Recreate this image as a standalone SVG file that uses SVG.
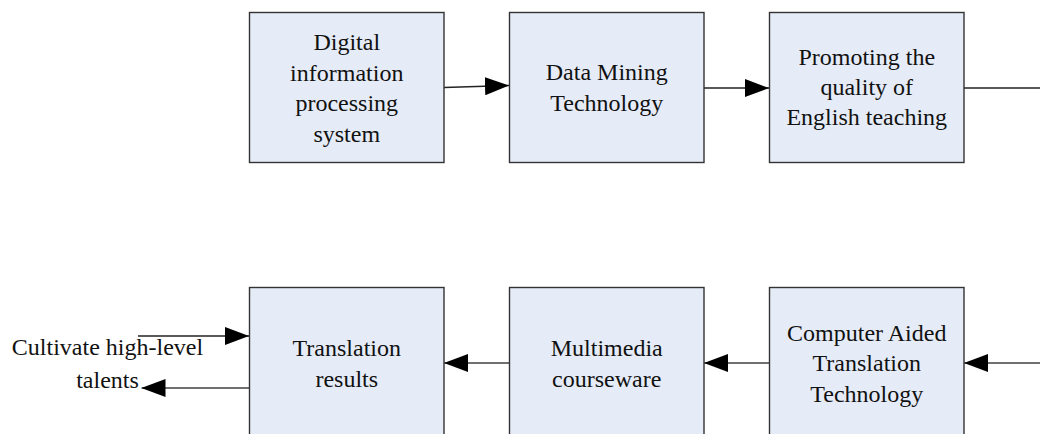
<svg xmlns="http://www.w3.org/2000/svg" width="1040" height="434" viewBox="0 0 1040 434">
<style>
.box{fill:#E6ECF7;stroke:#333333;stroke-width:1.4}
.t{font-family:"Liberation Serif","Times New Roman",serif;font-size:24px;fill:#111111;text-anchor:middle}
.c{fill:none;stroke:#222222;stroke-width:1.3}
.g{fill:none;stroke:#707070;stroke-width:2}
</style>
<defs>
<marker id="ah" markerUnits="userSpaceOnUse" markerWidth="24" markerHeight="18" refX="24" refY="9" orient="auto">
<path d="M0,0 L24,9 L0,18 z" fill="#000000"/>
</marker>
</defs>
<rect width="1040" height="434" fill="#ffffff"/>
<g id="connectors">
<path class="c" d="M444,87.5 L509,85.5" marker-end="url(#ah)"/>
<path class="c" d="M704,88 L769,88" marker-end="url(#ah)"/>
<path class="c" d="M964,88 L1040,88"/>
<path class="g" d="M1040,363 L964,363" marker-end="url(#ah)"/>
<path class="g" d="M769,363 L704,363" marker-end="url(#ah)"/>
<path class="g" d="M509,363 L444,363" marker-end="url(#ah)"/>
<path class="c" d="M138,336 L249,336" marker-end="url(#ah)"/>
<path class="g" d="M249,388 L141.5,388" marker-end="url(#ah)"/>
</g>
<g id="n1">
<rect class="box" x="249.5" y="12.5" width="194.5" height="150"/>
<text class="t"><tspan x="346.75" y="50">Digital</tspan><tspan x="346.75" y="80.5">information</tspan><tspan x="346.75" y="111">processing</tspan><tspan x="346.75" y="141.5">system</tspan></text>
</g>
<g id="n2">
<rect class="box" x="509.5" y="12.5" width="194.5" height="150"/>
<text class="t"><tspan x="606.75" y="80">Data Mining</tspan><tspan x="606.75" y="110.5">Technology</tspan></text>
</g>
<g id="n3">
<rect class="box" x="769.5" y="12.5" width="194.5" height="150"/>
<text class="t"><tspan x="866.75" y="65">Promoting the</tspan><tspan x="866.75" y="95">quality of</tspan><tspan x="866.75" y="125">English teaching</tspan></text>
</g>
<g id="n4">
<rect class="box" x="769.5" y="287.5" width="194.5" height="150"/>
<text class="t"><tspan x="866.75" y="340.5">Computer Aided</tspan><tspan x="866.75" y="371">Translation</tspan><tspan x="866.75" y="401.5">Technology</tspan></text>
</g>
<g id="n5">
<rect class="box" x="509.5" y="287.5" width="194.5" height="150"/>
<text class="t"><tspan x="606.75" y="356">Multimedia</tspan><tspan x="606.75" y="386.5">courseware</tspan></text>
</g>
<g id="n6">
<rect class="box" x="249.5" y="287.5" width="194.5" height="150"/>
<text class="t"><tspan x="346.75" y="356">Translation</tspan><tspan x="346.75" y="386.5">results</tspan></text>
</g>
<g id="n7">
<text class="t"><tspan x="107.5" y="355">Cultivate high-level</tspan><tspan x="107.5" y="388">talents</tspan></text>
</g>
</svg>
